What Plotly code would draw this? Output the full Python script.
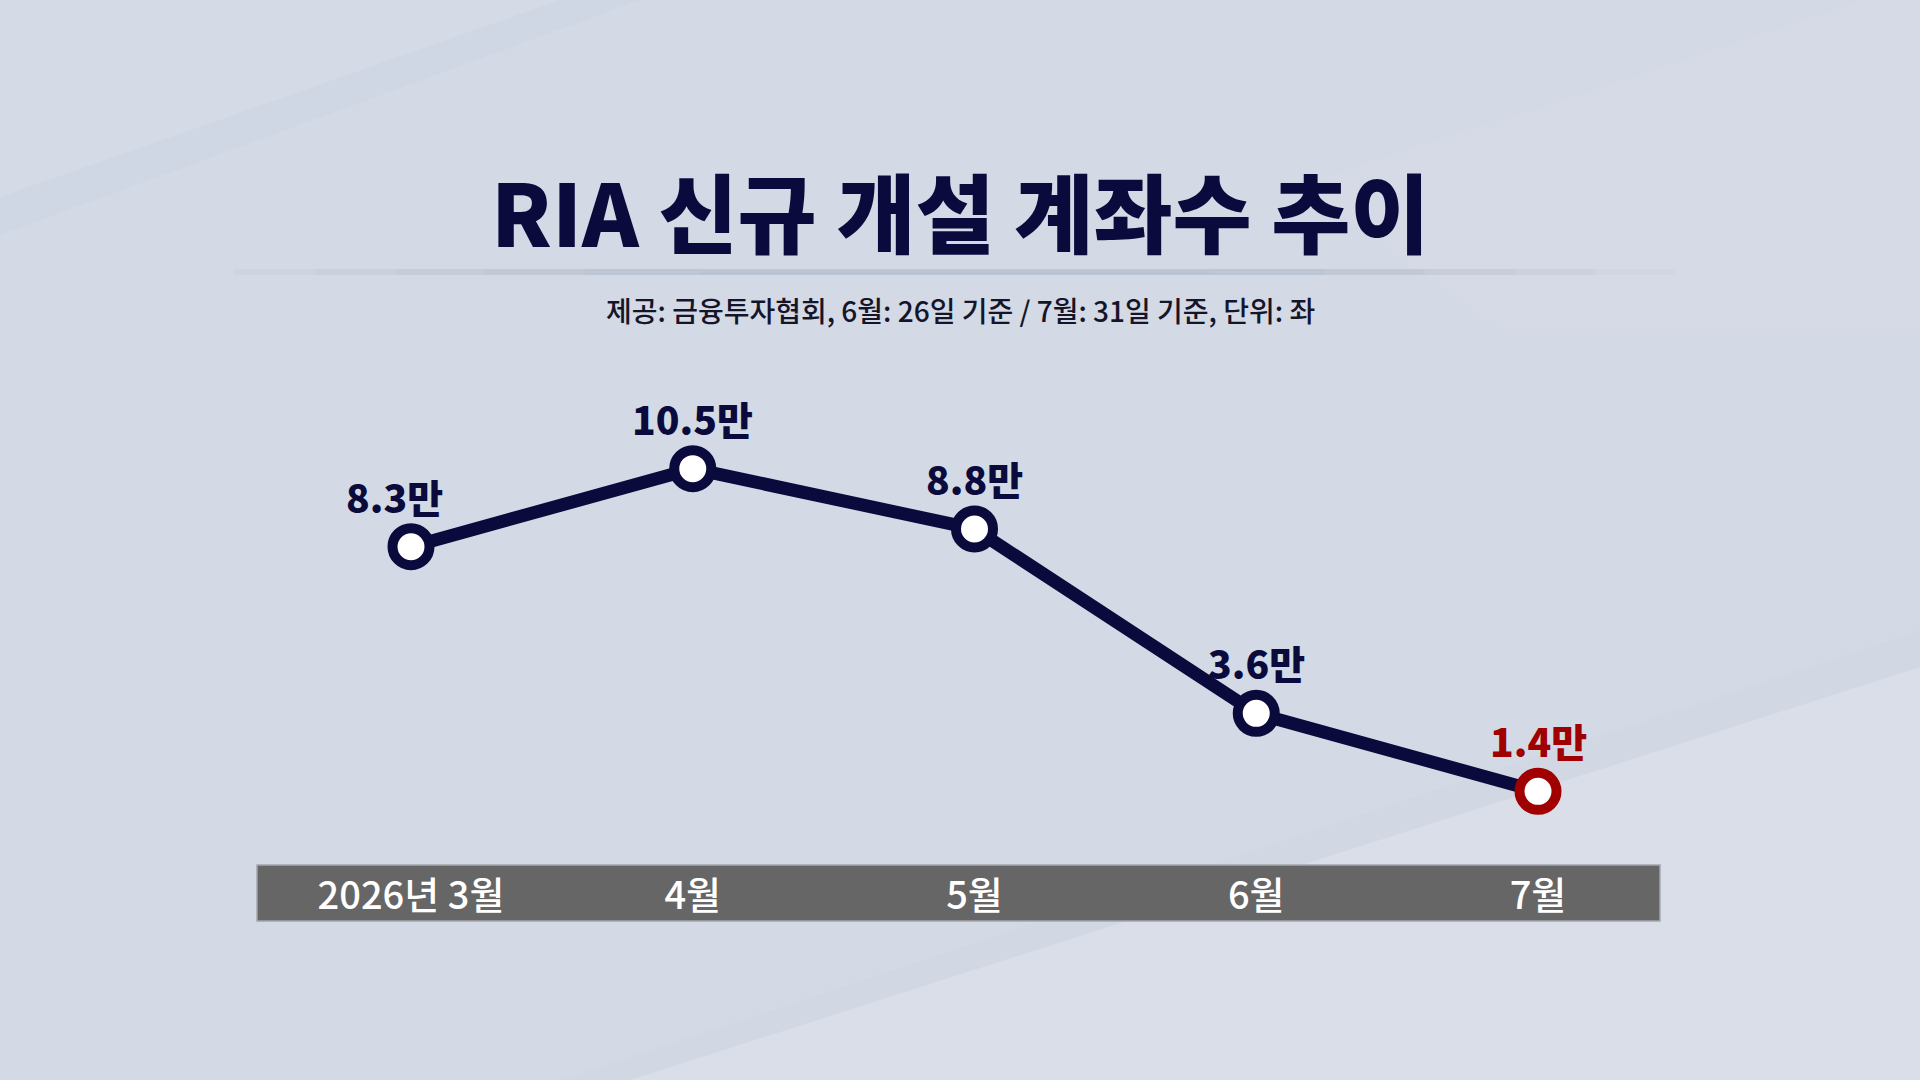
import plotly.graph_objects as go

# data (단위: 만 좌)
months = ["2026년 3월", "4월", "5월", "6월", "7월"]
accounts = [8.3, 10.5, 8.8, 3.6, 1.4]
value_labels = ["8.3만", "10.5만", "8.8만", "3.6만", "1.4만"]

title = "RIA 신규 개설 계좌수 추이"
subtitle = "제공: 금융투자협회, 6월: 26일 기준 / 7월: 31일 기준, 단위: 좌"

W, H = 1920, 1080
NAVY = "#0a0a3c"
RED = "#a00000"
FONT = "Noto Sans CJK KR"


def px(x, y):
    # pixel position -> paper fraction
    return x / W, 1 - y / H


def poly(points, color):
    parts = []
    for i, (x, y) in enumerate(points):
        fx, fy = px(x, y)
        parts.append(("M" if i == 0 else "L") + f"{fx:.4f},{fy:.4f}")
    return dict(type="path", xref="paper", yref="paper", layer="below",
                path=" ".join(parts) + " Z", fillcolor=color, line_width=0)


def hline(x0, x1, y, color, width):
    fx0, fy = px(x0, y)
    fx1, _ = px(x1, y)
    return dict(type="line", xref="paper", yref="paper", layer="below",
                x0=fx0, x1=fx1, y0=fy, y1=fy, line=dict(color=color, width=width))


idx = list(range(len(months)))
last = len(months) - 1
edge_colors = [RED if i == last else NAVY for i in idx]

fig = go.Figure()
fig.add_trace(go.Scatter(
    x=idx,
    y=accounts,
    mode="lines+markers",
    line=dict(color=NAVY, width=13),
    marker=dict(size=37, color="white", line=dict(color=edge_colors, width=10)),
    hoverinfo="skip",
    showlegend=False,
))

annotations = []
for i, (v, lab) in enumerate(zip(accounts, value_labels)):
    annotations.append(dict(
        x=i, y=v, xref="x", yref="y", text=lab, showarrow=False,
        yshift=51, xshift=-17 if i == 0 else 0,
        font=dict(family=FONT, size=39, color=edge_colors[i], weight=800),
    ))

tx, ty = px(960, 209)
annotations.append(dict(
    x=tx, y=ty, xref="paper", yref="paper", text=title, showarrow=False,
    xanchor="center", yanchor="middle",
    font=dict(family=FONT, size=86, color=NAVY, weight=900),
))
sx, sy = px(960, 310)
annotations.append(dict(
    x=sx, y=sy, xref="paper", yref="paper", text=subtitle, showarrow=False,
    xanchor="center", yanchor="middle",
    font=dict(family=FONT, size=28, color="#15152a", weight=500),
))

bx0, by1 = px(257, 865)
bx1, by0 = px(1660, 921)
shapes = [
    # background streaks, kept faint
    poly([(0, 0), (560, 0), (0, 197)], "rgba(255,255,255,0.06)"),
    poly([(0, 197), (560, 0), (640, 0), (0, 235)], "rgba(165,175,198,0.04)"),
    poly([(1300, 185), (1866, 0), (1920, 0), (1920, 330), (1500, 330)], "rgba(255,255,255,0.05)"),
    poly([(630, 1080), (1920, 667), (1920, 1080)], "rgba(255,255,255,0.15)"),
    poly([(560, 1080), (1920, 630), (1920, 667), (630, 1080)], "rgba(165,175,198,0.03)"),
]
# title separator: soft shadow line fading toward both ends
for half, alpha in [(720, 0.06), (640, 0.06), (560, 0.06), (470, 0.06), (370, 0.06)]:
    shapes.append(hline(955 - half, 955 + half, 272, f"rgba(140,148,165,{alpha})", 6))
shapes.append(hline(700, 1210, 273, "rgba(140,148,165,0.05)", 3))
# category bar
shapes.append(dict(type="rect", xref="paper", yref="paper", layer="below",
                   x0=bx0, x1=bx1, y0=by0, y1=by1, fillcolor="#666666",
                   line=dict(color="#a3a6ad", width=1.5)))

# pixel -> axis range so the points sit where the reference puts them
x_first, x_step = 411, 281.75
y_mid_px, y_mid_val, y_per_unit = 609.8, 6.52, 35.46

fig.update_layout(
    width=W,
    height=H,
    margin=dict(l=0, r=0, t=0, b=0),
    paper_bgcolor="#d3d9e5",
    plot_bgcolor="rgba(0,0,0,0)",
    shapes=shapes,
    annotations=annotations,
    xaxis=dict(
        range=[-x_first / x_step, (W - x_first) / x_step],
        tickvals=idx,
        ticktext=months,
        tickfont=dict(family=FONT, size=38, color="white", weight=500),
        ticks="",
        showgrid=False,
        zeroline=False,
        showline=False,
        anchor="free",
        position=1 - 870 / H,
        fixedrange=True,
    ),
    yaxis=dict(
        range=[y_mid_val - (H - y_mid_px) / y_per_unit, y_mid_val + y_mid_px / y_per_unit],
        visible=False,
        fixedrange=True,
    ),
)

fig.write_html(
    "out.html",
    config={"displayModeBar": False},
    post_script="document.body.style.margin='0';",
)
